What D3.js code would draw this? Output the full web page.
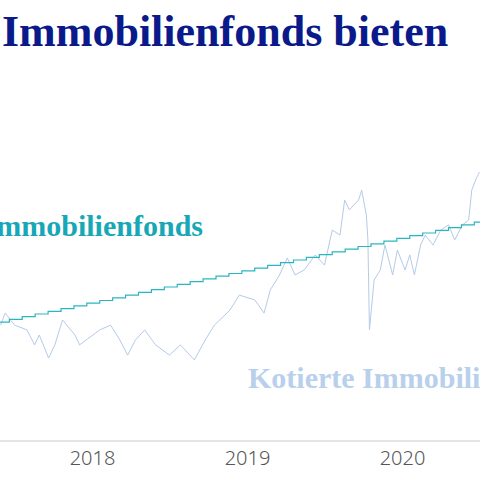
<!DOCTYPE html><html><head><meta charset="utf-8"><script src="https://cdn.jsdelivr.net/npm/d3@7"></script>
<style>body{margin:0;background:#fff}</style></head><body><svg id="c" width="480" height="480"></svg>
<script>
const ticks=[2018,2019,2020];
const stockYears=[2017.41,2017.44,2017.50,2017.58,2017.63,2017.66,2017.72,2017.76,2017.81,2017.89,2017.92,2018.05,2018.12,2018.18,2018.23,2018.28,2018.34,2018.41,2018.50,2018.57,2018.66,2018.73,2018.79,2018.89,2018.95,2019.05,2019.11,2019.15,2019.21,2019.26,2019.31,2019.37,2019.44,2019.50,2019.55,2019.60,2019.63,2019.66,2019.72,2019.74,2019.77,2019.78,2019.79,2019.82,2019.86,2019.89,2019.94,2019.97,2020.02,2020.05,2020.08,2020.12,2020.15,2020.20,2020.25,2020.30,2020.34,2020.39,2020.43,2020.45,2020.48,2020.50];
const stockValues=[98.3,102.3,98.3,96.7,91.7,95,87.3,91.7,100,95,91.7,96.7,98.3,93.3,88.3,93.3,96.7,91.7,88.3,91.7,86.7,93.3,98.3,103.3,108.3,106.7,102.3,110,115,120.7,115,116.7,121.7,118.3,130,128.3,140,136.7,140,143.3,135,126.7,96.7,113.3,116.7,125,115,123.3,116.7,121.7,115,125,128.3,125,130,131.7,126.7,131.7,133.3,143.3,147.3,149.3];
const fundStart=2017.3;
const fundValues=[99.0,99.3,100.2,101.1,102.0,102.9,103.8,104.7,105.6,106.5,107.4,108.3,109.2,110.1,111.0,111.9,112.8,113.7,114.6,115.5,116.4,117.3,118.2,119.1,120.0,120.9,121.8,122.7,123.6,124.5,125.4,126.3,127.2,128.1,129.0,129.9,130.8,131.7,132.6,133.5,134.3];
const svg=d3.select("#c");
const x=d3.scaleLinear().domain([2018,2019]).range([92,247]);
const y=d3.scaleLinear().domain([60,160]).range([440,140]);
const serif="'Liberation Serif','DejaVu Serif',serif";
svg.append("text").attr("x",2).attr("y",46).attr("font-family",serif).attr("font-weight","bold").attr("font-size",44).attr("fill","#0b1a8a").text("Immobilienfonds bieten");
svg.append("path").datum(stockYears.map((t,i)=>[t,stockValues[i]])).attr("fill","none").attr("stroke","#b4cbe8").attr("stroke-width",1)
 .attr("d",d3.line().x(d=>x(d[0])).y(d=>y(d[1])));
svg.append("path").datum(fundValues.map((v,i)=>[fundStart+i/12,v])).attr("fill","none").attr("stroke","#2bb5c0").attr("stroke-width",1.2)
 .attr("d",d3.line().curve(d3.curveStepAfter).x(d=>x(d[0])).y(d=>y(d[1])));
svg.append("text").attr("x",203).attr("y",236).attr("text-anchor","end").attr("font-family",serif).attr("font-weight","bold").attr("font-size",30).attr("fill","#17a7b6").text("Immobilienfonds");
svg.append("text").attr("x",248).attr("y",388).attr("font-family",serif).attr("font-weight","bold").attr("font-size",30).attr("fill","#b8d0ec").text("Kotierte Immobilien");
const ax=svg.append("g").attr("transform","translate(0,441)").call(d3.axisBottom(x).tickValues(ticks).tickFormat(d3.format("d")).tickSize(0).tickPadding(10));
ax.select(".domain").attr("d","M0,0H480").attr("stroke","#ddd").attr("stroke-width",1.5);
ax.selectAll("text").attr("font-family","'Noto Sans',sans-serif").attr("font-size",20).attr("font-weight",300).attr("fill","#555");
</script></body></html>
